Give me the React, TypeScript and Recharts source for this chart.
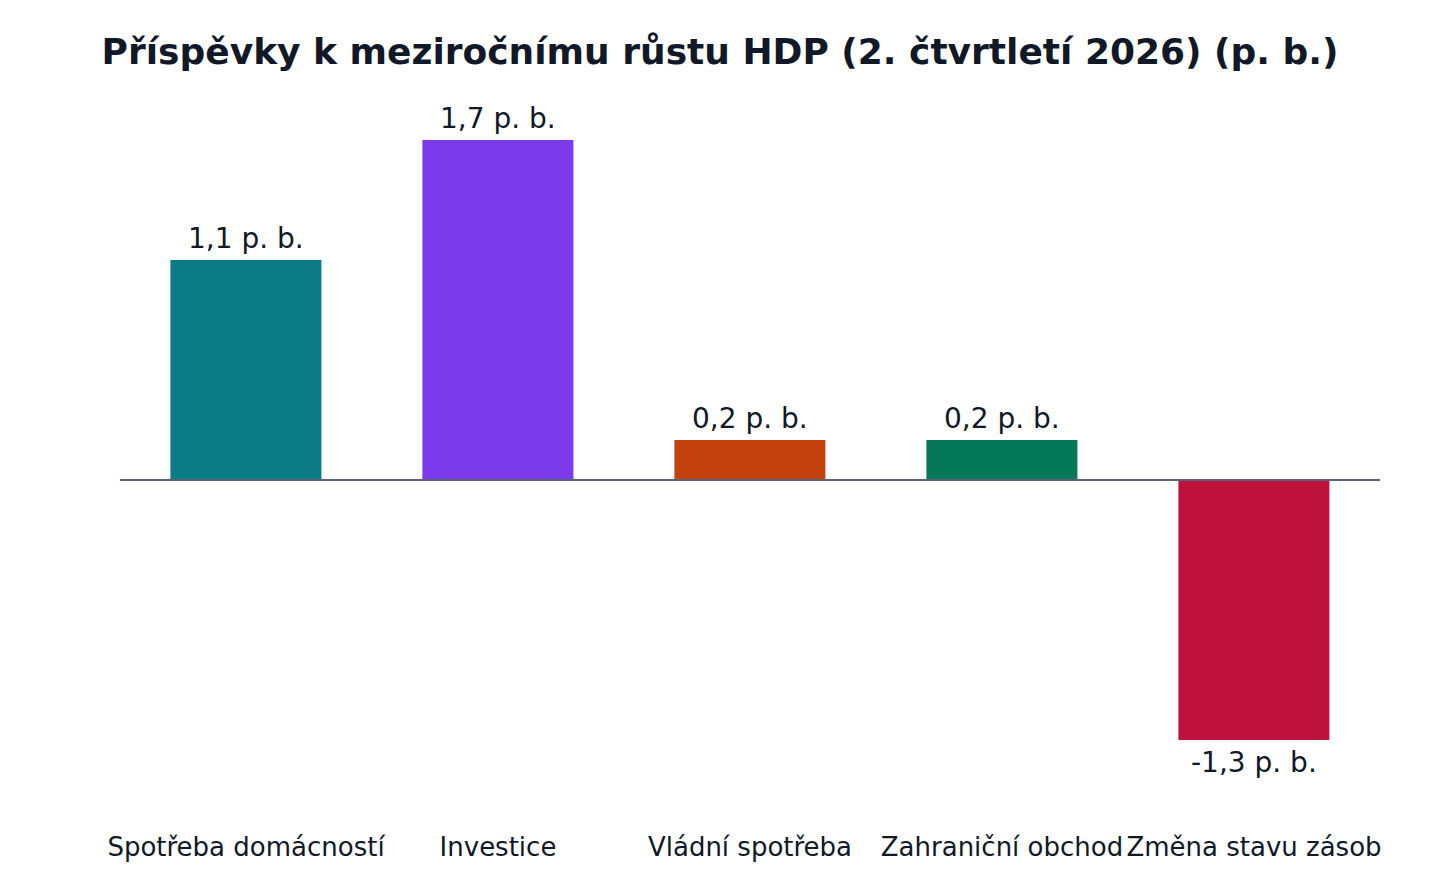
import { BarChart, Bar, XAxis, YAxis, Cell, LabelList, ReferenceLine } from "recharts";

const categories = [
  "Spotřeba domácností",
  "Investice",
  "Vládní spotřeba",
  "Zahraniční obchod",
  "Změna stavu zásob",
];
const contributions = [1.1, 1.7, 0.2, 0.2, -1.3];
const barColors = ["#0b7c86", "#7c3aed", "#c2410c", "#047857", "#be123c"];

const data = categories.map((name, i) => ({ name, value: contributions[i] }));

const FONT = "'DejaVu Sans', sans-serif";
const TEXT = "#111827";

const fmt = (v: number) => `${String(v).replace(".", ",")} p. b.`;

function ValueLabel(props: any) {
  const { x, y, width, height, value } = props;
  const top = Math.min(y, y + height);
  const bottom = Math.max(y, y + height);
  const cx = x + width / 2;
  if (value >= 0) {
    return (
      <text x={cx} y={top - 12} textAnchor="middle" fontSize={28} fontFamily={FONT} fill={TEXT}>
        {fmt(value)}
      </text>
    );
  }
  return (
    <text x={cx} y={bottom + 32} textAnchor="middle" fontSize={28} fontFamily={FONT} fill={TEXT}>
      {fmt(value)}
    </text>
  );
}

function CategoryTick(props: any) {
  const { x, y, payload } = props;
  return (
    <text x={x} y={y + 48} textAnchor="middle" fontSize={26} fontFamily={FONT} fill={TEXT}>
      {payload.value}
    </text>
  );
}

export default function App() {
  return (
    <div style={{ position: "absolute", left: 0, top: 0, width: 1440, height: 880, background: "#fff" }}>
      <div
        style={{
          position: "absolute",
          left: 0,
          top: 28,
          width: 1440,
          textAlign: "center",
          fontFamily: FONT,
          fontWeight: "bold",
          fontSize: 36,
          lineHeight: "48px",
          color: TEXT,
        }}
      >
        Příspěvky k meziročnímu růstu HDP (2. čtvrtletí 2026) (p. b.)
      </div>
      <BarChart
        width={1440}
        height={880}
        data={data}
        margin={{ top: 100, right: 60, bottom: 50, left: 120 }}
        barCategoryGap="20%"
      >
        <XAxis
          dataKey="name"
          axisLine={false}
          tickLine={false}
          height={30}
          interval={0}
          tick={<CategoryTick />}
        />
        <YAxis hide domain={[-1.6, 1.9]} />
        <Bar dataKey="value" isAnimationActive={false}>
          {data.map((d, i) => (
            <Cell key={d.name} fill={barColors[i]} />
          ))}
          <LabelList dataKey="value" content={<ValueLabel />} />
        </Bar>
        <ReferenceLine y={0} stroke="#5b6275" strokeWidth={2} />
      </BarChart>
    </div>
  );
}
